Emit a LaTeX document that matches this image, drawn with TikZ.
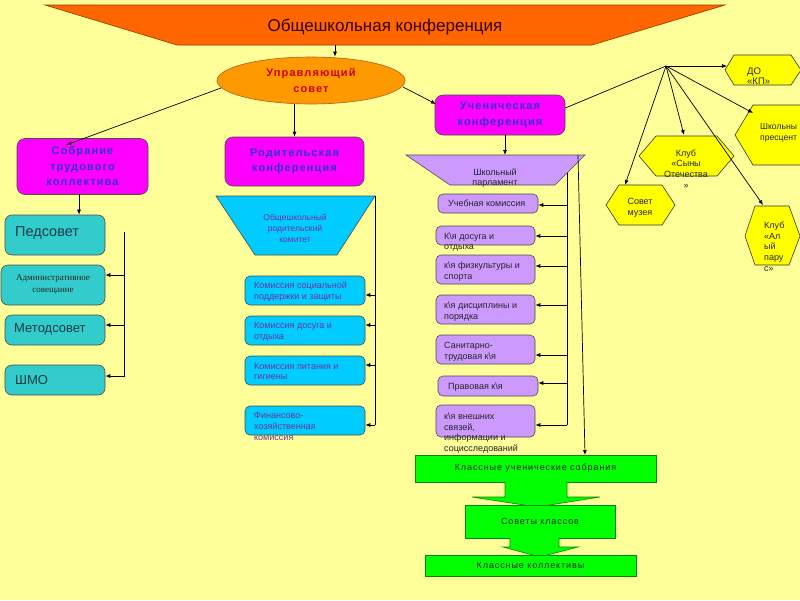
\documentclass[tikz,border=0pt]{standalone}
\usepackage{fontspec}
\setmainfont{Liberation Sans}
\newfontfamily\spf[LetterSpace=10]{Liberation Sans}
\newfontfamily\serf{Liberation Serif}
\usetikzlibrary{arrows.meta,shapes.geometric}
\definecolor{bgc}{HTML}{FFFF99}
\definecolor{orng}{HTML}{FF6600}
\definecolor{orbd}{HTML}{993300}
\definecolor{ttlc}{HTML}{330000}
\definecolor{elf}{HTML}{FF9900}
\definecolor{redt}{HTML}{CC0000}
\definecolor{mag}{HTML}{FF00FF}
\definecolor{bluet}{HTML}{3333CC}
\definecolor{tealf}{HTML}{33CCCC}
\definecolor{tealt}{HTML}{1A3A44}
\definecolor{cyanf}{HTML}{00CCFF}
\definecolor{purt}{HTML}{7030A0}
\definecolor{lav}{HTML}{CC99FF}
\definecolor{grn}{HTML}{00FF00}
\definecolor{grnbd}{HTML}{008800}
\definecolor{yel}{HTML}{FFFF00}
\begin{document}
\begin{tikzpicture}[x=1pt,y=-1pt,
  arr/.style={-{Latex[length=5pt,width=4pt]},line width=0.7pt},
  ln/.style={line width=0.7pt},
  box/.style={rectangle,rounded corners=6pt,draw=black!70,line width=0.6pt,inner sep=0pt},
  magbox/.style={box,fill=mag,rounded corners=8pt,align=center,text=bluet,
     font=\spf\bfseries\fontsize{11}{15.5}\selectfont},
  tealbox/.style={box,fill=tealf,rounded corners=7pt},
  cyanbox/.style={box,fill=cyanf,rounded corners=5pt},
  lavbox/.style={box,fill=lav,rounded corners=5pt},
  gbox/.style={rectangle,draw=grnbd,fill=grn,line width=0.6pt,inner sep=0pt,
     text=black!85,font=\spf\fontsize{9}{10}\selectfont},
  hexa/.style={draw=black!80,fill=yel,line width=0.6pt},
  ltxt/.style={inner sep=0pt,align=left,anchor=west,font=\fontsize{9}{10.7}\selectfont},
  ctxt/.style={inner sep=0pt,align=center,font=\fontsize{9}{10.7}\selectfont},
]
\useasboundingbox (0,0) rectangle (800,600);
\clip (0,0) rectangle (800,600);
\fill[bgc] (0,0) rectangle (800,600);

% title banner
\filldraw[fill=orng,draw=orbd,line width=0.6pt] (45,5) -- (725,5) -- (592,45) -- (177,45) -- cycle;
\node[inner sep=0pt,text=ttlc,font=\fontsize{17}{17}\selectfont] (ttl) at (385,27) {Общешкольная конференция};
\coordinate (tb) at (335,45);

% governing council
\node[ellipse,draw=orbd!80,fill=elf,line width=0.6pt,minimum width=188pt,minimum height=47pt,inner sep=0pt,
  align=center,text=redt,font=\spf\bfseries\fontsize{11}{16}\selectfont] (uc) at (311,80.5) {Управляющий\\совет};
\draw[arr] (tb) -- (tb |- uc.north);

% left column
\node[magbox,minimum width=131pt,minimum height=56pt] (sob) at (82.5,166.5) {Собрание\\трудового\\коллектива};
\node[tealbox,minimum width=100pt,minimum height=40pt] (ped) at (55,235) {};
\node[tealbox,minimum width=104pt,minimum height=40pt] (adm) at (53,285) {};
\node[tealbox,minimum width=100pt,minimum height=30pt] (met) at (55,330) {};
\node[tealbox,minimum width=100pt,minimum height=30pt] (shmo) at (55,380) {};
\node[ltxt,text=tealt,font=\fontsize{14.5}{16}\selectfont] (pedt) at (15,233) {Педсовет};
\node[ctxt,text=black!85,font=\serf\fontsize{9}{12}\selectfont] (admt) at (53,284) {Административное\\совещание};
\node[ltxt,text=tealt,font=\fontsize{13}{15}\selectfont] (mett) at (14,329) {Методсовет};
\node[ltxt,text=tealt,font=\fontsize{13}{15}\selectfont] (shmot) at (15,380) {ШМО};

\coordinate (ucL) at (221,88);
\coordinate (sobT) at (66,145);
\draw[arr] (ucL) -- (sobT);
\coordinate (sobB) at (79,194);
\draw[arr] (sobB) -- (sobB |- ped.north);
\coordinate (lt) at (124,232);
\coordinate (lbt) at (124,377);
\draw[ln] (lt) -- (lbt);
\coordinate (la1) at (124,275);
\coordinate (la2) at (124,325);
\coordinate (la3) at (124,376);
\draw[arr] (la1) -- (la1 -| adm.east);
\draw[arr] (la2) -- (la2 -| met.east);
\draw[arr] (la3) -- (la3 -| shmo.east);

% middle column
\node[magbox,minimum width=139pt,minimum height=49pt] (rod) at (294.5,161.5) {Родительская\\конференция};
\draw[arr] (rod.north |- uc.south) -- (rod.north);
\filldraw[fill=cyanf,draw=black!70,line width=0.6pt] (216,196) -- (375,196) -- (337,255) -- (255,255) -- cycle;
\node[ctxt,text=purt,font=\fontsize{8.5}{11}\selectfont] (kom) at (295,228) {Общешкольный\\родительский\\комитет};
\node[cyanbox,minimum width=120pt,minimum height=29pt] (p1) at (305,290.5) {};
\node[cyanbox,minimum width=120pt,minimum height=29pt] (p2) at (305,330.5) {};
\node[cyanbox,minimum width=120pt,minimum height=29pt] (p3) at (305,370.5) {};
\node[cyanbox,minimum width=120pt,minimum height=29pt] (p4) at (305,420.5) {};
\node[ltxt,text=purt] (p1t) at (254,291.5) {Комиссия социальной\\поддержки и защиты};
\node[ltxt,text=purt] (p2t) at (254,331.5) {Комиссия досуга и\\отдыха};
\node[ltxt,text=purt] (p3t) at (254,371.5) {Комиссия питания и\\гигиены};
\node[ltxt,text=purt] (p4t) at (254,426.5) {Финансово-\\хозяйственная\\комиссия};
\coordinate (mt) at (375,196);
\coordinate (mb) at (375,425);
\draw[ln] (mt) -- (mb);
\coordinate (ma1) at (375,295);
\coordinate (ma2) at (375,325);
\coordinate (ma3) at (375,365);
\coordinate (ma4) at (375,425);
\draw[arr] (ma1) -- (ma1 -| p1.east);
\draw[arr] (ma2) -- (ma2 -| p2.east);
\draw[arr] (ma3) -- (ma3 -| p3.east);
\draw[arr] (ma4) -- (ma4 -| p4.east);

% student column
\node[magbox,minimum width=130pt,minimum height=40pt] (uch) at (500,115) {Ученическая\\конференция};
\coordinate (ucR) at (403,87);
\coordinate (uchT) at (436,104);
\draw[arr] (ucR) -- (uchT);
\filldraw[fill=lav,draw=black!70,line width=0.6pt] (406,155) -- (585,155) -- (555,185) -- (450,185) -- cycle;
\coordinate (parT) at (505,155);
\coordinate (uchB) at (505,135);
\draw[arr] (uchB) -- (parT);
\node[ctxt,text=black!85] (parl) at (495,178) {Школьный\\парламент};

\node[lavbox,minimum width=100pt,minimum height=19pt] (k1) at (488,203.5) {};
\node[lavbox,minimum width=99pt,minimum height=19pt] (k2) at (485.5,235.5) {};
\node[lavbox,minimum width=99pt,minimum height=29pt] (k3) at (485.5,269.5) {};
\node[lavbox,minimum width=99pt,minimum height=29pt] (k4) at (485.5,309.5) {};
\node[lavbox,minimum width=99pt,minimum height=29pt] (k5) at (485.5,349.5) {};
\node[lavbox,minimum width=100pt,minimum height=20pt] (k6) at (488,386) {};
\node[lavbox,minimum width=99pt,minimum height=32pt] (k7) at (485.5,421) {};
\node[ltxt,text=black!85] (k1t) at (448,203) {Учебная комиссия};
\node[ltxt,text=black!85] (k2t) at (444,242) {К\textbackslash я досуга и\\отдыха};
\node[ltxt,text=black!85] (k3t) at (444,272) {к\textbackslash я физкультуры и\\спорта};
\node[ltxt,text=black!85] (k4t) at (444,311.5) {к\textbackslash я дисциплины и\\порядка};
\node[ltxt,text=black!85] (k5t) at (444,351.5) {Санитарно-\\трудовая к\textbackslash я};
\node[ltxt,text=black!85] (k6t) at (448,387) {Правовая к\textbackslash я};
\node[ltxt,text=black!85] (k7t) at (444,433) {к\textbackslash я внешних\\связей,\\информации и\\социсследований};

\coordinate (rt) at (567,173);
\coordinate (rb) at (567,425);
\draw[ln] (rt) -- (rb);
\coordinate (ra1) at (567,205);
\coordinate (ra2) at (567,236);
\coordinate (ra3) at (567,266);
\coordinate (ra4) at (567,305);
\coordinate (ra5) at (567,355);
\coordinate (ra6) at (567,383);
\coordinate (ra7) at (567,425);
\draw[arr] (ra1) -- (ra1 -| k1.east);
\draw[arr] (ra2) -- (ra2 -| k2.east);
\draw[arr] (ra3) -- (ra3 -| k3.east);
\draw[arr] (ra4) -- (ra4 -| k4.east);
\draw[arr] (ra5) -- (ra5 -| k5.east);
\draw[arr] (ra6) -- (ra6 -| k6.east);
\draw[arr] (ra7) -- (ra7 -| k7.east);

% green blocks
\node[gbox,minimum width=241pt,minimum height=27pt] (g1) at (535.5,468.5) {Классные ученические собрания};
\coordinate (rt2) at (578,155);
\coordinate (g1T) at (585,455);
\draw[arr] (rt2) -- (g1T);
\fill[grn] (505,481) -- (505,497) -- (472,497) -- (537,507) -- (600,497) -- (567,497) -- (567,481) -- cycle;
\draw[grnbd,line width=0.6pt] (505,482) -- (505,497) -- (472,497) -- (537,507) -- (600,497) -- (567,497) -- (567,482);
\node[gbox,minimum width=150pt,minimum height=33pt] (g2) at (540,521.5) {Советы классов};
\fill[grn] (510,537) -- (510,547) -- (503,547) -- (540,557) -- (578,547) -- (559,547) -- (559,537) -- cycle;
\draw[grnbd,line width=0.6pt] (510,538) -- (510,547) -- (503,547) -- (540,557) -- (578,547) -- (559,547) -- (559,538);
\node[gbox,minimum width=211pt,minimum height=21pt] (g3) at (530.5,565.5) {Классные коллективы};

% hexagons (clubs)
\filldraw[hexa] (725,70) -- (734,55) -- (791,55) -- (801,70) -- (791,85) -- (734,85) -- cycle;
\filldraw[hexa] (735,135) -- (753,105) -- (810,105) -- (828,135) -- (810,165) -- (753,165) -- cycle;
\filldraw[hexa] (639,156) -- (656,136) -- (717,136) -- (734,156) -- (717,176) -- (656,176) -- cycle;
\filldraw[hexa] (606,205) -- (619,185) -- (662,185) -- (675,205) -- (662,225) -- (619,225) -- cycle;
\filldraw[hexa] (745,236) -- (755,206) -- (789,206) -- (800,236) -- (789,265) -- (755,265) -- cycle;
\node[ltxt,text=black!85,font=\fontsize{9.5}{10.5}\selectfont] (dot) at (747,76) {ДО\\«КП»};
\node[ltxt,text=black!85,font=\fontsize{8.6}{11.5}\selectfont] (prest) at (760,133) {Школьны\\пресцент};
\node[ctxt,text=black!85] (synt) at (686,169) {Клуб\\«Сыны\\Отечества\\»};
\node[ctxt,text=black!85] (muzt) at (640,207.5) {Совет\\музея};
\node[ltxt,text=black!85] (alpt) at (764,246.5) {Клуб\\«Ал\\ый\\пару\\с»};

\coordinate (hub) at (666,66);
\draw[ln] ([yshift=7pt]uch.east) -- (hub);
\coordinate (doT) at (727,66);
\coordinate (presT) at (753,113);
\coordinate (synT) at (684,135);
\coordinate (muzT) at (625,185);
\coordinate (alpT) at (763,205);
\draw[arr] (hub) -- (doT);
\draw[arr] (hub) -- (presT);
\draw[arr] (hub) -- (synT);
\draw[arr] (hub) -- (muzT);
\draw[arr] (hub) -- (alpT);
\end{tikzpicture}
\end{document}
